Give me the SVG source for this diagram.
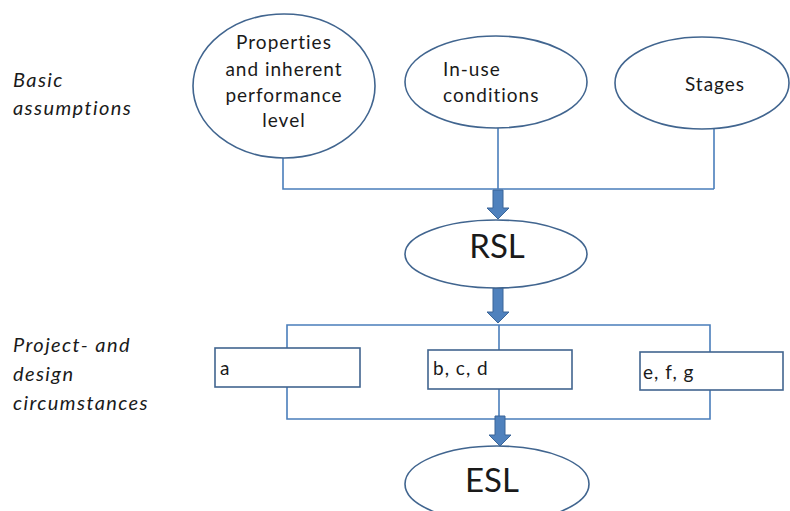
<svg xmlns="http://www.w3.org/2000/svg" width="790" height="511" viewBox="0 0 790 511">
<defs>
<style>
.bg{fill:#ffffff}
.ell{fill:#ffffff;stroke:#41658f;stroke-width:1.6}
.box{fill:#ffffff;stroke:#41658f;stroke-width:1.6}
.ln{fill:none;stroke:#4a7ebb;stroke-width:1.6}
.arr{fill:#4f81bd;stroke:#3a6598;stroke-width:1}
.t{font-family:Lato,"Liberation Sans",sans-serif;fill:#1a1a1a;font-size:19px;letter-spacing:1px}
.big{font-family:Lato,"Liberation Sans",sans-serif;fill:#1a1a1a;font-size:33px}
.it{font-family:Lato,"Liberation Sans",sans-serif;fill:#1a1a1a;font-size:20px;font-style:italic;letter-spacing:1.4px}
</style>
</defs>
<rect class="bg" x="0" y="0" width="790" height="511"/>
<g id="connectors">
<polyline class="ln" points="283,158 283,189 714,189"/>
<line class="ln" x1="498" y1="128" x2="498" y2="189"/>
<line class="ln" x1="714" y1="129" x2="714" y2="189"/>
<polyline class="ln" points="287,348 287,325 710,325 710,352"/>
<line class="ln" x1="499" y1="325" x2="499" y2="350"/>
<polyline class="ln" points="287,387 287,419 710,419 710,390"/>
<line class="ln" x1="499" y1="389" x2="499" y2="419"/>
<polygon class="arr" points="493,190 503,190 503,208 509,208 498,219 487,208 493,208"/>
<polygon class="arr" points="493,288 503,288 503,312 509,312 498,323 487,312 493,312"/>
<polygon class="arr" points="495,416 505,416 505,435 511,435 500,446 489,435 495,435"/>
</g>
<g id="label-basic">
<text class="it" x="13" y="87">Basic</text>
<text class="it" x="13" y="115">assumptions</text>
</g>
<g id="label-project">
<text class="it" x="13" y="352">Project- and</text>
<text class="it" x="13" y="381">design</text>
<text class="it" x="13" y="410">circumstances</text>
</g>
<g id="node-properties">
<ellipse class="ell" cx="284" cy="86" rx="91" ry="72"/>
<text class="t" text-anchor="middle" x="284" y="49">Properties</text>
<text class="t" text-anchor="middle" x="284" y="76">and inherent</text>
<text class="t" text-anchor="middle" x="284" y="102">performance</text>
<text class="t" text-anchor="middle" x="284" y="127">level</text>
</g>
<g id="node-inuse">
<ellipse class="ell" cx="496" cy="82" rx="91" ry="46"/>
<text class="t" x="443" y="76">In-use</text>
<text class="t" x="443" y="102">conditions</text>
</g>
<g id="node-stages">
<ellipse class="ell" cx="702" cy="83" rx="87" ry="46"/>
<text class="t" text-anchor="middle" x="715" y="91">Stages</text>
</g>
<g id="node-rsl">
<ellipse class="ell" cx="496" cy="254" rx="91" ry="34"/>
<text class="big" text-anchor="middle" x="497" y="258">RSL</text>
</g>
<g id="node-a">
<rect class="box" x="215" y="348" width="145" height="39"/>
<text class="t" x="220" y="375">a</text>
</g>
<g id="node-bcd">
<rect class="box" x="428" y="350" width="144" height="39"/>
<text class="t" x="433" y="375">b, c, d</text>
</g>
<g id="node-efg">
<rect class="box" x="640" y="352" width="143" height="38"/>
<text class="t" x="643" y="379">e, f, g</text>
</g>
<g id="node-esl">
<ellipse class="ell" cx="497" cy="484" rx="92" ry="38"/>
<text class="big" text-anchor="middle" x="492" y="492">ESL</text>
</g>
</svg>
